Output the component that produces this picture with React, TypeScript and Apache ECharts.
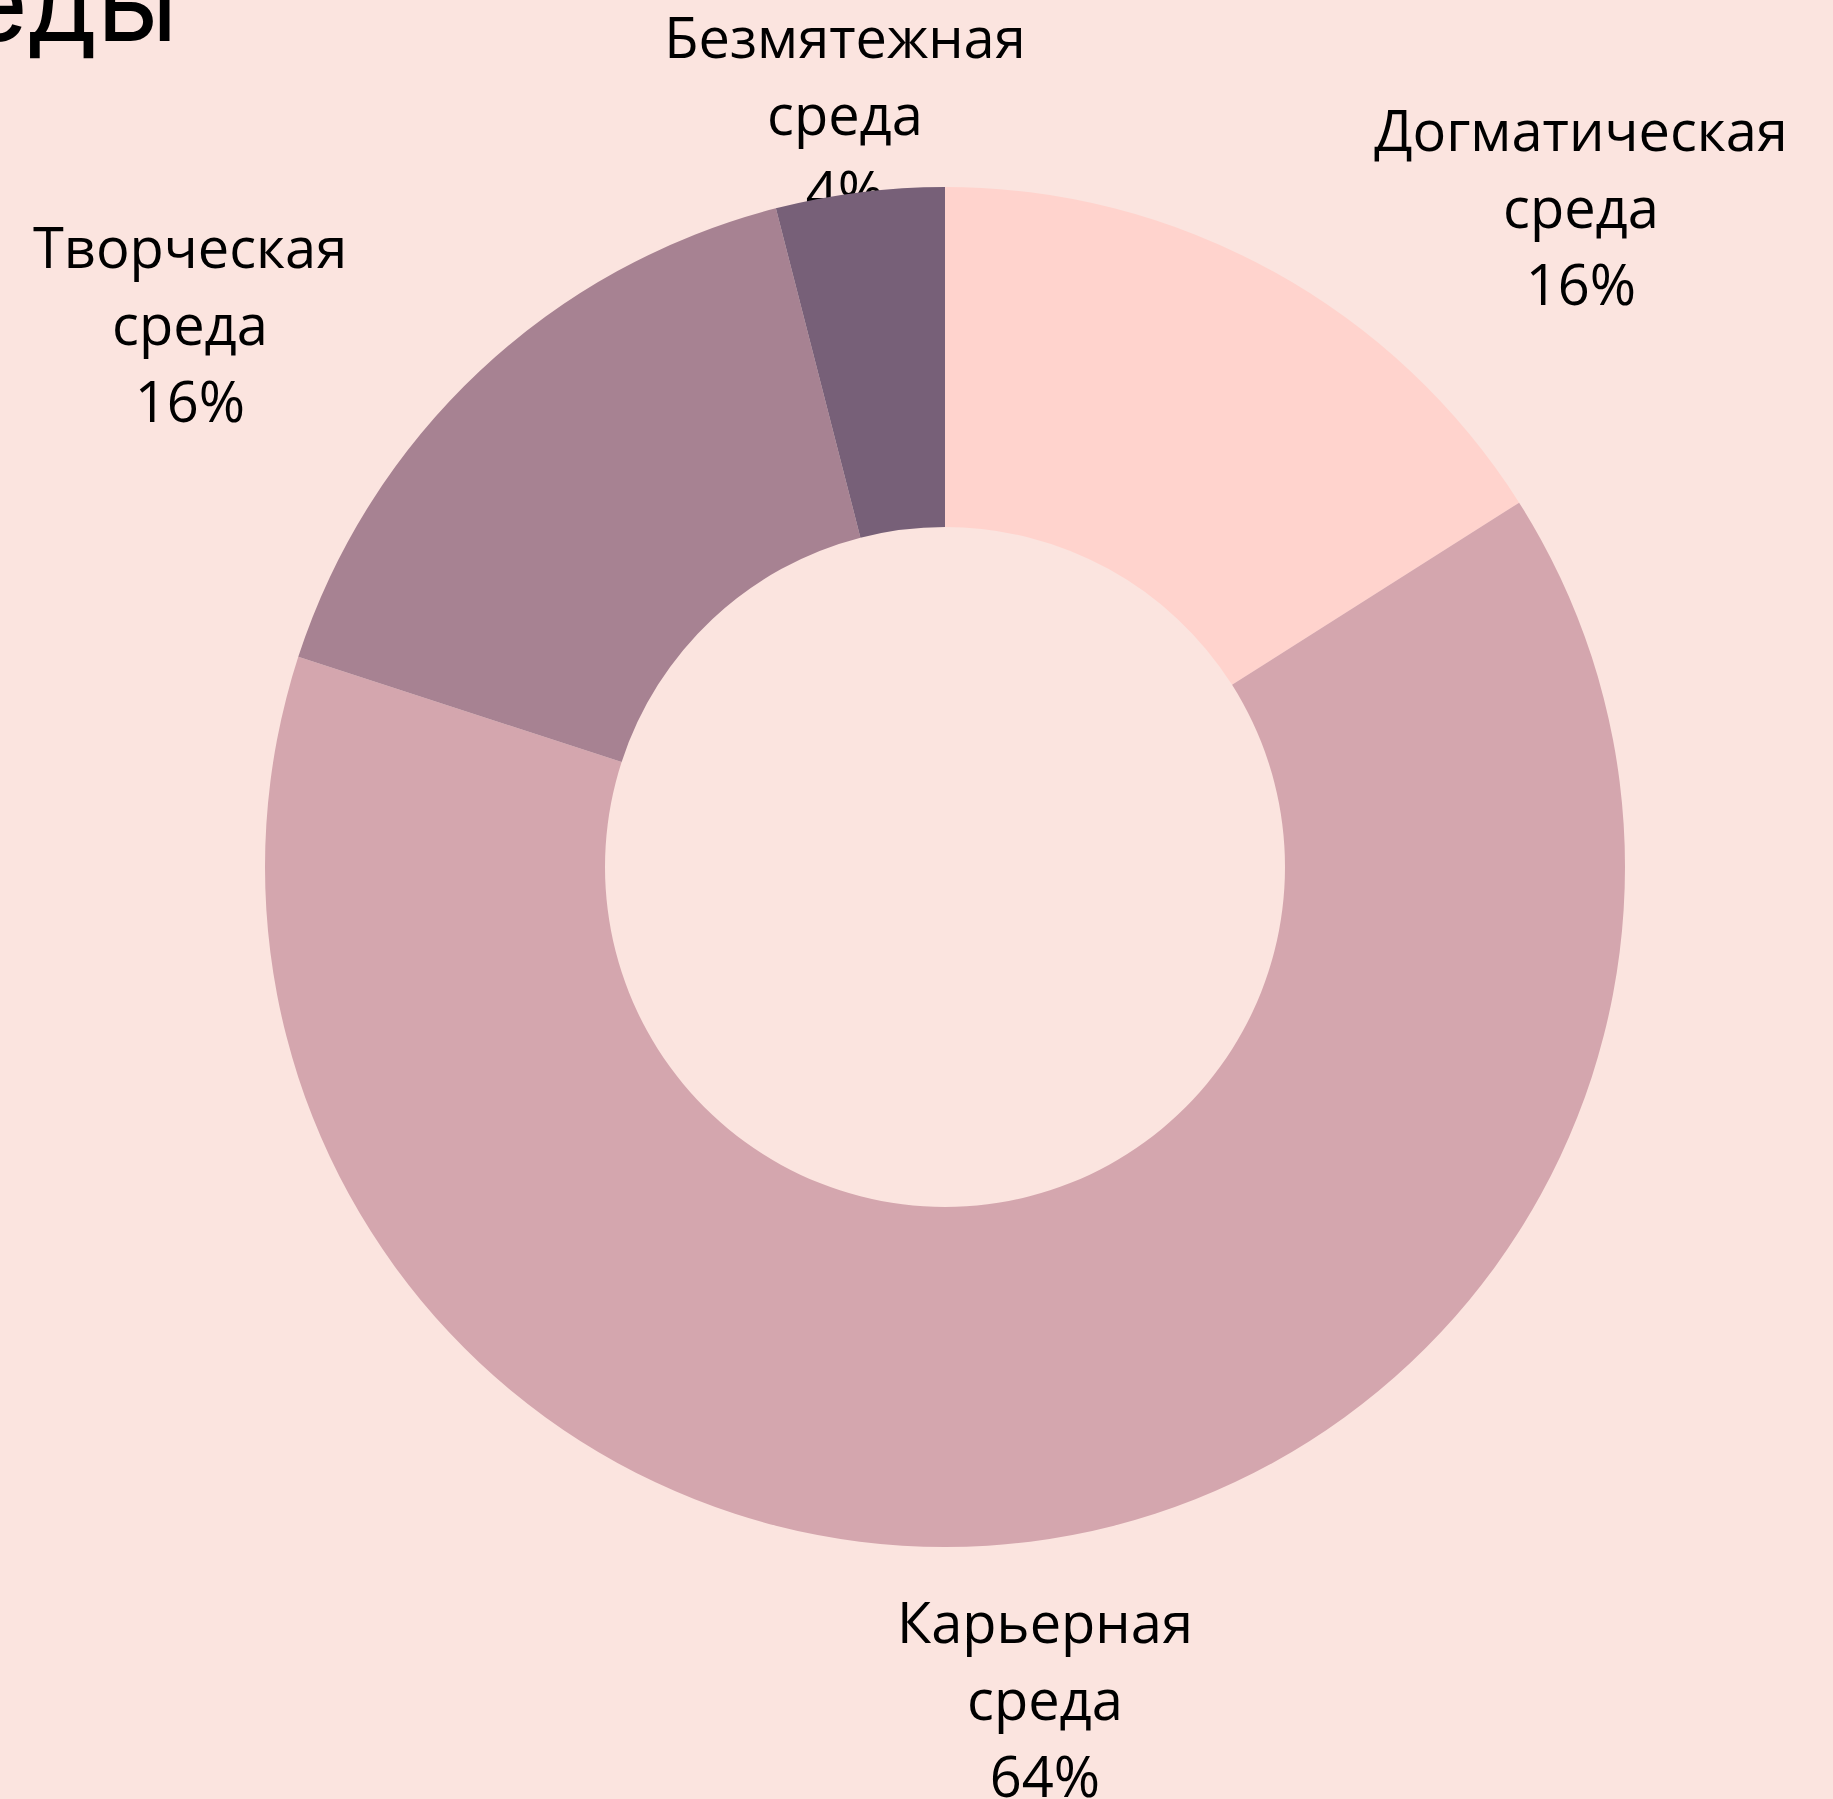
import React, { useEffect, useRef } from "react";
import * as echarts from "echarts";

const categories = ["Догматическая среда", "Карьерная среда", "Творческая среда", "Безмятежная среда"];
const shares = [16, 64, 16, 4];
const colors = ["#FFD3CD", "#D4A6AE", "#A78292", "#776078"];
const titleText = "Типы образовательной среды";

// label anchor points (block centres), in page pixels
const labelAnchors: [number, number][] = [
  [1581, 206],
  [1045, 1698],
  [190, 323],
  [845, 113],
];

const BG = "#FBE4DF";

export default function App() {
  const ref = useRef<HTMLDivElement>(null);
  useEffect(() => {
    document.body.style.margin = "0";
    document.body.style.background = BG;
    const chart = echarts.init(ref.current!, null, { renderer: "svg" });
    const data = categories.map((name, i) => ({
      name,
      value: shares[i],
      itemStyle: { color: colors[i] },
    }));
    chart.setOption({
      animation: false,
      backgroundColor: BG,
      graphic: [
        {
          type: "text",
          right: 1833 - 178,
          top: -54,
          style: {
            text: titleText,
            font: "400 110px Inter",
            fill: "#000",
          },
        },
      ],
      series: [
        {
          type: "pie",
          z: 1,
          silent: true,
          center: [945, 867],
          radius: [340, 680],
          startAngle: 90,
          clockwise: true,
          avoidLabelOverlap: false,
          data: categories.map((name, i) => ({ name, value: shares[i], itemStyle: { color: "rgba(0,0,0,0)" } })),
          label: {
            show: true,
            position: "outside",
            formatter: (p: any) => `${p.name.replace(" ", "\n")}\n${Math.round(p.percent)}%`,
            fontFamily: "Open Sans",
            fontSize: 56,
            lineHeight: 77,
            color: "#000",
            align: "center",
          },
          labelLine: { show: false },
          labelLayout: (params: any) => {
            const a = labelAnchors[params.dataIndex];
            return { x: a[0], y: a[1], align: "center", verticalAlign: "middle" };
          },
          emphasis: { disabled: true },
        },
        {
          type: "pie",
          z: 2,
          silent: true,
          center: [945, 867],
          radius: [340, 680],
          startAngle: 90,
          clockwise: true,
          data,
          label: { show: false },
          labelLine: { show: false },
          emphasis: { disabled: true },
        },
      ],
    });
    return () => chart.dispose();
  }, []);
  return <div ref={ref} style={{ width: 1833, height: 1799 }} />;
}
